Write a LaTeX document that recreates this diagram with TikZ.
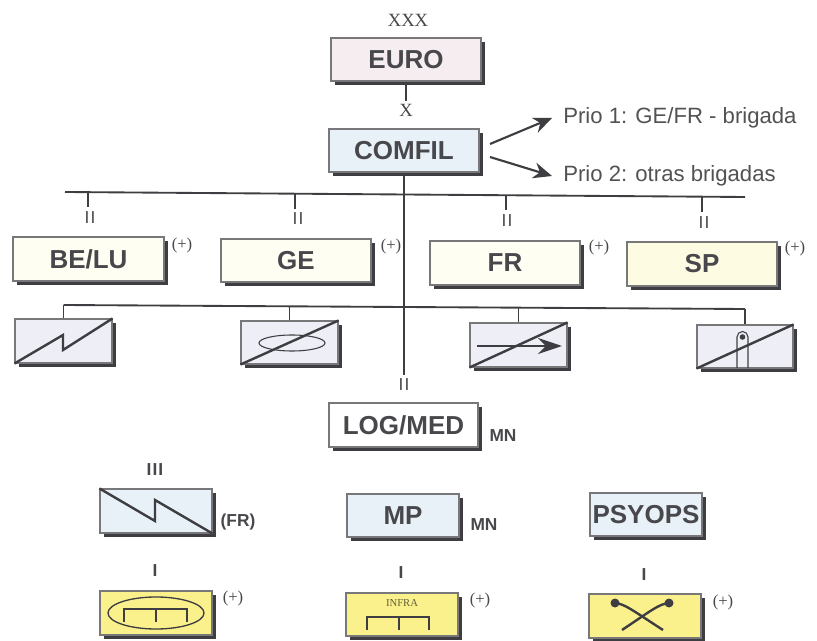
\documentclass[tikz,border=0pt]{standalone}
\usepackage{fontspec}
\setmainfont{Liberation Serif}
\setsansfont{Liberation Sans}
\usetikzlibrary{shadows,arrows.meta}
\definecolor{ink}{HTML}{3E3E42}
\definecolor{tx}{HTML}{48484C}
\definecolor{euroF}{HTML}{F6EDF0}
\definecolor{blueF}{HTML}{E7F1F7}
\definecolor{ivoryA}{HTML}{FFFEF3}
\definecolor{ivoryB}{HTML}{FDFBE2}
\definecolor{lilacF}{HTML}{EEEEF6}
\definecolor{yelF}{HTML}{FBF18C}
\tikzset{
  box/.style={draw=ink!70,line width=0.8pt,inner sep=0pt,font=\sffamily\bfseries\fontsize{19.5}{20}\selectfont,text=tx,
    general shadow={shadow xshift=2.9pt,shadow yshift=-2.9pt,fill=ink,opacity=1}},
  rank/.style={font=\sffamily\fontsize{13}{13}\selectfont,text=tx,inner sep=3pt},
  rankb/.style={font=\sffamily\bfseries\fontsize{13}{13}\selectfont,text=tx,inner sep=3pt},
  serifrank/.style={font=\rmfamily\fontsize{14}{14}\selectfont,text=tx,inner sep=2pt},
  plus/.style={font=\rmfamily\fontsize{12.5}{13}\selectfont,text=tx,inner sep=0pt},
  nat/.style={font=\sffamily\bfseries\fontsize{13}{13}\selectfont,text=tx,inner sep=0pt},
  prio/.style={font=\sffamily\fontsize{16.6}{17}\selectfont,text=black!68,inner xsep=8.25pt,inner ysep=0pt,anchor=west},
  conn/.style={draw=ink,line width=1.4pt},
  sym/.style={draw=ink,line width=1.8pt,line join=miter},
  thin sym/.style={draw=ink,line width=0.8pt},
  arr/.style={draw=ink,line width=1.6pt,-{Stealth[length=14pt,width=12pt]}}
}
\newcommand{\bx}[7]{%
  \pgfmathsetmacro\cxx{(#2+#4)/2}\pgfmathsetmacro\cyy{(#3+#5)/2}%
  \pgfmathsetmacro\ww{(#4-#2)*0.75}\pgfmathsetmacro\hh{(#5-#3)*0.75}%
  \node[box,fill=#6,minimum width=\ww pt,minimum height=\hh pt] (#1) at (\cxx,\cyy) {#7};}
\begin{document}
\begin{tikzpicture}[x=0.75pt,y=-0.75pt]
\useasboundingbox (0,0) rectangle (817,641);
% main boxes
\bx{euro}{331}{38}{481}{81}{euroF}{EURO}
\bx{comfil}{329}{129}{479}{172}{blueF}{COMFIL}
\bx{belu}{13}{237}{164}{281}{ivoryA}{BE/LU}
\bx{ge}{221}{239}{371}{282}{ivoryA}{GE}
\bx{fr}{430}{241}{580}{285}{ivoryA}{FR}
\bx{sp}{627}{242}{777}{286}{ivoryB}{SP}
\bx{sa}{15}{319}{112}{363}{lilacF}{}
\bx{sb}{241}{321}{338}{364}{lilacF}{}
\bx{sc}{470}{323}{567}{367}{lilacF}{}
\bx{sd}{697}{325}{793}{368}{lilacF}{}
\bx{log}{329}{403}{478}{447}{white}{LOG/MED}
\bx{sig}{100}{489}{212}{533}{blueF}{}
\bx{mp}{347}{494}{459}{537}{blueF}{MP}
\bx{psy}{590}{493}{702}{536}{blueF}{PSYOPS}
\bx{ya}{100}{591}{212}{635}{yelF}{}
\bx{yb}{346}{593}{458}{636}{yelF}{}
\bx{yc}{589}{594}{701}{638}{yelF}{}
% rank labels
\node[serifrank] (xxx) at (408,20) {XXX};
\node[serifrank] (xl) at (406,110) {X};
\node[rank] (r1) at (90,218) {I\kern.8pt I};
\node[rank] (r2) at (298,219) {I\kern.8pt I};
\node[rank] (r3) at (507,221) {I\kern.8pt I};
\node[rank] (r4) at (704,223) {I\kern.8pt I};
\node[rank] (r5) at (404,385) {I\kern.8pt I};
\node[rankb] (r6) at (155,470) {I\kern.8pt I\kern.8pt I};
\node[rankb] (r7) at (155,571) {I};
\node[rankb] (r8) at (401,573) {I};
\node[rankb] (r9) at (644,575) {I};
% side labels
\node[plus] (p1) at (182,245) {(+)};
\node[plus] (p2) at (391,246) {(+)};
\node[plus] (p3) at (599,247) {(+)};
\node[plus] (p4) at (795,248) {(+)};
\node[plus] (p5) at (233,598) {(+)};
\node[plus] (p6) at (480,600) {(+)};
\node[plus] (p7) at (723,602) {(+)};
\node[nat] (n1) at (503,436) {MN};
\node[nat] (n2) at (484,525) {MN};
\node[nat] (n3) at (238,522) {(FR)};
% priorities
\node[prio] (prio1) at (552,118) {Prio 1: GE/FR - brigada};
\node[prio] (prio2) at (552,176) {Prio 2: otras brigadas};
\coordinate (s1) at (490,144);
\coordinate (s2) at (490,157);
\draw[arr] (s1) -- (prio1.west);
\draw[arr] (s2) -- (prio2.west);
% connectors
\draw[conn] (euro.south) -- (xl.north);
\draw[conn] (comfil.south) -- (r5.north);
\coordinate (busL) at (65,192);
\coordinate (busR) at (745,197);
\draw[conn] (busL) -- (busR);
\coordinate (t1) at (88,192);
\coordinate (t2) at (295,194);
\coordinate (t3) at (506,195);
\coordinate (t4) at (702,196);
\draw[conn] (t1) -- (88,207);
\draw[conn] (t2) -- (295,209);
\draw[conn] (t3) -- (506,210);
\draw[conn] (t4) -- (702,212);
\coordinate (lb1) at (sa.north |- 0,305);
\coordinate (lb2) at (sb.north |- 0,306);
\coordinate (lb3) at (sc.north |- 0,308);
\coordinate (lb4) at (sd.north |- 0,309);
\draw[conn] (lb1) -- (lb4);
\draw[conn] (lb1) -- (sa.north);
\draw[conn] (lb2) -- (sb.north);
\draw[conn] (lb3) -- (sc.north);
\draw[conn] (lb4) -- (sd.north);
% unit symbols
\draw[sym] (sa.south west) -- (63,335) -- (63,350) -- (sa.north east);
\draw[thin sym] (292,343) ellipse [x radius=33,y radius=8];
\draw[sym] (sb.south west) -- (sb.north east);
\draw[sym,-{Stealth[length=18pt,width=12pt]}] (477,346) -- (562,346);
\draw[sym] (sc.south west) -- (sc.north east);
\draw[thin sym] (737,368) -- (737,337) arc[start angle=180,end angle=360,radius=5.5] -- (748,368);
\fill[ink] (742.5,337) circle [radius=2.8];
\draw[sym] (sd.south west) -- (sd.north east);
\draw[sym] (sig.north west) -- (155,521) -- (155,500) -- (sig.south east);
% yellow boxes
\draw[thin sym,line width=1pt] (156,613) ellipse [x radius=48,y radius=16];
\draw[sym] (124,622) -- (124,609) -- (187,609) -- (187,622) (156,609) -- (156,622);
\node[font=\rmfamily\fontsize{8}{8}\selectfont,text=black!60!yelF,inner sep=0pt] (infra) at (402,603) {INFRA};
\draw[sym] (367,630) -- (367,617) -- (429,617) -- (429,630) (399,617) -- (399,630);
\draw[sym] (615,603) .. controls (625,604) and (632,610) .. (663,630);
\draw[sym] (669,603) .. controls (659,604) and (652,610) .. (622,630);
\fill[ink] (615,603) circle [radius=4.5];
\fill[ink] (669,603) circle [radius=4.5];
\end{tikzpicture}
\end{document}
